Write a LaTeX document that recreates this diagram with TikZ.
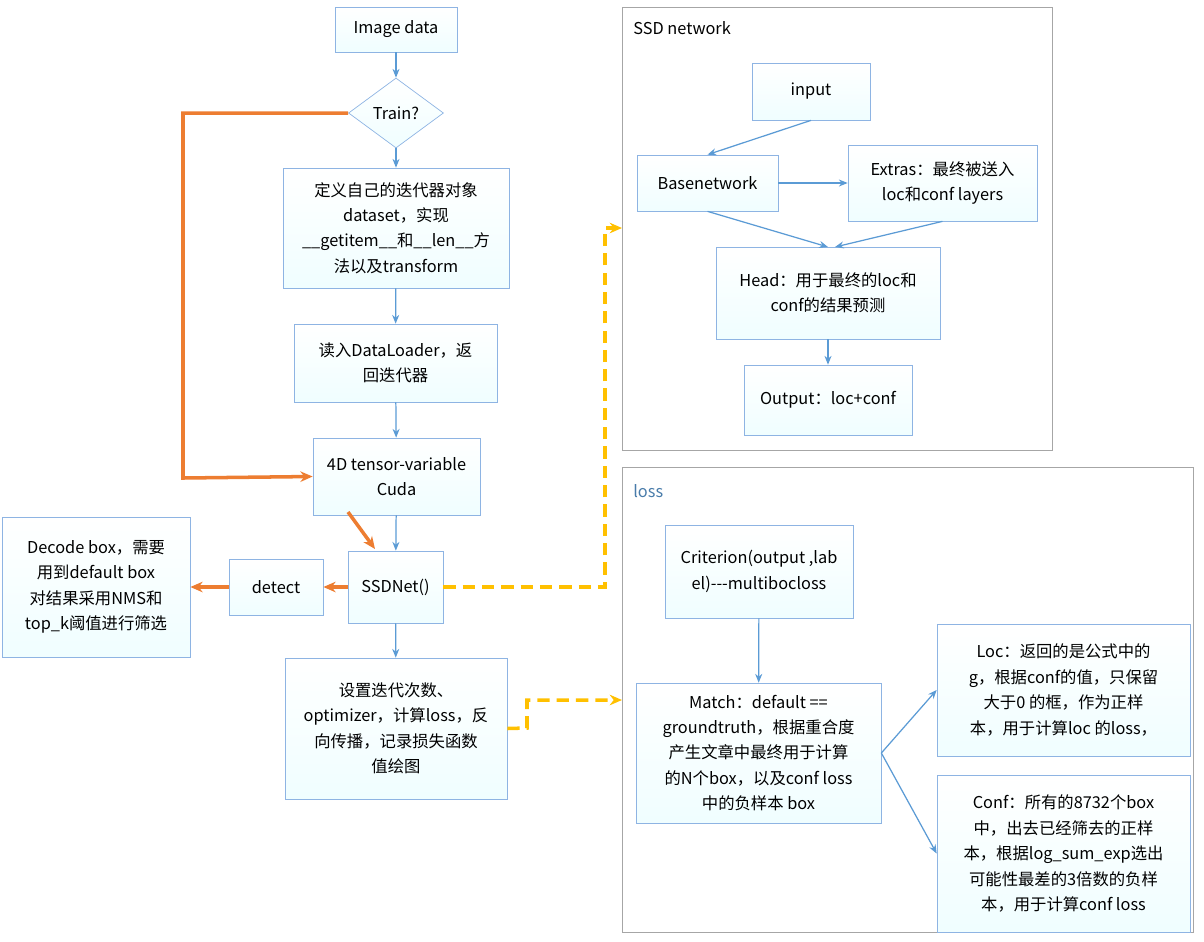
\documentclass[tikz,border=0pt]{standalone}
\usepackage{fontspec}
\setmainfont{Noto Sans CJK SC}
\usetikzlibrary{shapes.geometric,arrows.meta}
\definecolor{ab}{HTML}{5B9BD5}
\definecolor{ao}{HTML}{ED7D31}
\definecolor{ay}{HTML}{FFC000}
\definecolor{bd}{HTML}{8EB4E3}
\begin{document}
\begin{tikzpicture}[x=0.02cm,y=-0.02cm,
  every node/.style={font=\fontsize{9.3}{14.5}\selectfont,align=center,inner sep=0pt},
  bx/.style={draw=bd,top color=white,bottom color=blue!6!cyan!6},
  frame/.style={draw=gray!70,fill=white},
  ba/.style={-{Stealth[length=5pt,width=4pt]},ab,line width=0.7pt},
  oa/.style={-{Stealth[length=7pt,width=6pt]},ao,line width=2pt},
  ya/.style={-{Stealth[length=7pt,width=6pt]},ay,line width=2pt,dash pattern=on 7pt off 4pt}]
\useasboundingbox (0,0) rectangle (1204,941);
\def\B#1#2#3#4#5#6{\node[bx,minimum width={(#4-#2)*0.02cm},minimum height={(#5-#3)*0.02cm}] (#1) at ({(#2+#4)/2},{(#3+#5)/2}) {#6};}
% frames
\draw[frame] (622,7) rectangle (1052,450);
\node[anchor=west] (ssdl) at (633,28) {SSD network};
\draw[frame] (622,467) rectangle (1193,932);
\node[anchor=west,text=ab!80!black] (lossl) at (633,491) {loss};
% left column
\B{img}{335}{7}{457}{52}{Image data}
\node[diamond,draw=bd,top color=white,bottom color=blue!6!cyan!6,minimum width=95*0.02cm,minimum height=70*0.02cm,aspect=1.36] (train) at (396,113) {Train?};
\B{def}{283}{168}{509}{288}{定义自己的迭代器对象\\dataset，实现\\\_\_getitem\_\_和\_\_len\_\_方\\法以及transform}
\B{dl}{294}{324}{497}{402}{读入DataLoader，返\\回迭代器}
\B{t4}{313}{438}{480}{515}{4D tensor-variable\\Cuda}
\B{ssd}{348}{551}{443}{623}{SSDNet()}
\B{det}{229}{559}{323}{615}{detect}
\B{dec}{2}{517}{190}{657}{Decode box，需要\\用到default box\\对结果采用NMS和\\top\_k阈值进行筛选}
\B{set}{285}{658}{507}{799}{设置迭代次数、\\optimizer，计算loss，反\\向传播，记录损失函数\\值绘图}
% SSD network
\B{inp}{752}{63}{870}{120}{input}
\B{base}{637}{155}{778}{211}{Basenetwork}
\B{ext}{848}{145}{1037}{221}{Extras：最终被送入\\loc和conf layers}
\B{head}{716}{247}{940}{339}{Head：用于最终的loc和\\conf的结果预测}
\B{out}{744}{365}{912}{435}{Output：loc+conf}
% loss
\B{crit}{665}{525}{853}{618}{Criterion(output ,lab\\el){-}{-}{-}multibocloss}
\B{match}{636}{683}{881}{823}{Match：default ==\\groundtruth，根据重合度\\产生文章中最终用于计算\\的N个box，以及conf loss\\中的负样本 box}
\B{loc}{937}{624}{1190}{756}{Loc：返回的是公式中的\\g，根据conf的值，只保留\\大于0 的框，作为正样\\本，用于计算loc 的loss，}
\B{conf}{937}{775}{1190}{932}{Conf：所有的8732个box\\中，出去已经筛去的正样\\本，根据log\_sum\_exp选出\\可能性最差的3倍数的负样\\本，用于计算conf loss}
% blue arrows
\draw[ba] (img) -- (train);
\draw[ba] (train) -- (def);
\draw[ba] (def) -- (dl);
\draw[ba] (dl) -- (t4);
\draw[ba] (t4) -- (ssd);
\draw[ba] (ssd) -- (set);
\draw[ba] (inp.south) -- (base.north);
\draw[ba] (base) -- (ext);
\draw[ba] (base.south) -- (828,247);
\draw[ba] (ext.south) -- (835,247);
\draw[ba] (head) -- (out);
\draw[ba] (crit) -- (match);
\draw[ba] (match.east) -- (loc.west);
\draw[ba] (match.east) -- (conf.west);
% orange
\coordinate (o1) at (183,113);
\coordinate (o2) at (183,478);
\draw[oa] (train.west) -- (o1) -- (o2) -- (t4.west);
\coordinate (o3) at (348,512);
\draw[oa] (o3) -- (375,549);
\draw[oa] (ssd) -- (det);
\draw[oa] (det) -- (dec);
% yellow
\coordinate (y1) at (605,587);
\coordinate (y2) at (605,228);
\draw[ya] (ssd.east) -- (y1) -- (y2) -- (622,228);
\coordinate (y3) at (527,728);
\coordinate (y4) at (527,700);
\draw[ya] (set.east) -- (y3) -- (y4) -- (622,700);
\end{tikzpicture}
\end{document}
